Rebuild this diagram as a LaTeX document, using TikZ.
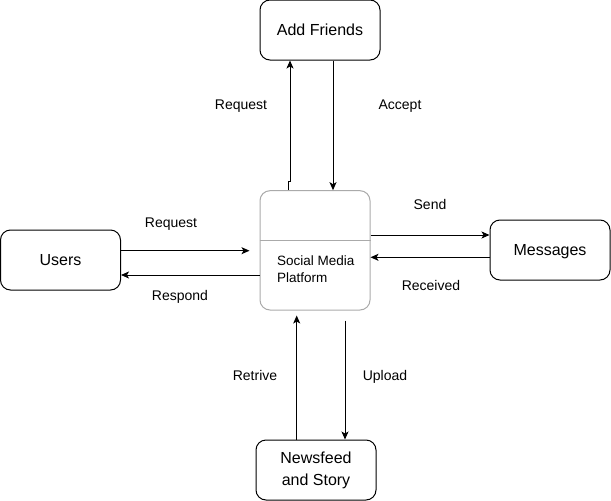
\documentclass[tikz,border=0pt]{standalone}
\usepackage{fontspec}
\setmainfont{Liberation Sans}
\usetikzlibrary{arrows.meta}
\definecolor{boxgray}{RGB}{170,170,170}
\tikzset{
  box/.style={draw=black, line width=1pt, rounded corners=10pt, minimum width=120pt, minimum height=60pt, inner sep=0pt, align=center, text height=11.5pt, text depth=0pt, font=\fontsize{16}{22}\selectfont},
  centerbox/.style={draw=boxgray, line width=1pt, rounded corners=10pt, minimum width=110pt, minimum height=119.3pt, inner sep=0pt},
  arr/.style={draw=black, line width=1pt, -{Stealth[length=8pt,width=7pt,inset=2pt]}},
  lbl/.style={font=\fontsize{14}{17}\selectfont, inner sep=0pt, text height=10pt, text depth=0pt},
}
\begin{document}
\begin{tikzpicture}[x=1pt, y=-1pt]
\useasboundingbox (0,0) rectangle (611,501);
% nodes
\node[box] (users) at (60.5,260) {Users};
\node[box] (af) at (320,30) {Add Friends};
\node[box] (msg) at (550,250) {Messages};
\node[box, text height=, text depth=] (nf) at (316,470) {Newsfeed\\and Story};
\node[centerbox] (smp) at (315,250.35) {};
\draw[boxgray, line width=1pt] ([yshift=-50pt]smp.north west) -- ([yshift=-50pt]smp.north east);
\node[lbl, anchor=west, align=left, text height=, text depth=, font=\fontsize{13.5}{17}\selectfont] (smptext) at (277,269.5) {Social Media\\Platform};
% helper coordinates
\coordinate (hReq) at (0,250.7);
\coordinate (hResp) at (0,275);
\coordinate (hSend) at (0,235);
\coordinate (hRec) at (0,257.3);
\coordinate (vA) at (288,0);
\coordinate (jog) at (0,181);
\coordinate (vReq) at (290,0);
\coordinate (vAcc) at (333,0);
\coordinate (vRet) at (296.7,0);
\coordinate (vUp) at (345,0);
% connectors
\draw[arr, shorten >=10pt] (users.east |- hReq) -- (smp.west |- hReq);
\draw[arr] (smp.west |- hResp) -- (users.east |- hResp);
\draw[arr] (smp.east |- hSend) -- (msg.west |- hSend);
\draw[arr] (msg.west |- hRec) -- (smp.east |- hRec);
\draw[arr] (smp.north -| vA) -- (vA |- jog) -- (vReq |- jog) -- (af.south -| vReq);
\draw[arr] (af.south -| vAcc) -- (smp.north -| vAcc);
\draw[arr, shorten >=5pt] (nf.north -| vRet) -- (smp.south -| vRet);
\draw[arr, shorten <=10pt] (smp.south -| vUp) -- (nf.north -| vUp);
% labels
\node[lbl] (l1) at (171,222) {Request};
\node[lbl] (l2) at (180,295) {Respond};
\node[lbl] (l3) at (241,104) {Request};
\node[lbl] (l4) at (400,104) {Accept};
\node[lbl] (l5) at (430,204) {Send};
\node[lbl] (l6) at (431,285) {Received};
\node[lbl] (l7) at (255,375) {Retrive};
\node[lbl] (l8) at (385,375) {Upload};
\end{tikzpicture}
\end{document}
